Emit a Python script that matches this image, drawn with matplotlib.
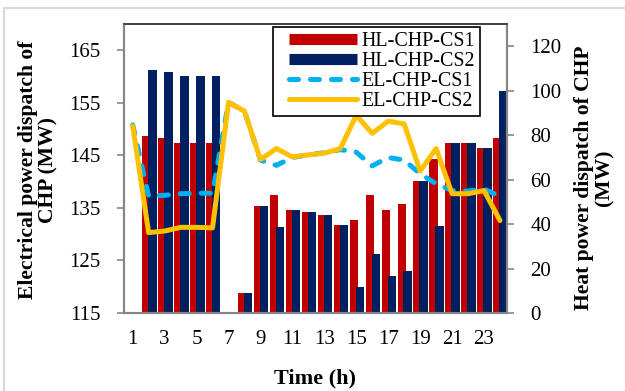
import matplotlib
matplotlib.use("Agg")
import matplotlib.pyplot as plt
from matplotlib.lines import Line2D
from matplotlib.patches import Rectangle
from matplotlib.legend_handler import HandlerLine2D
import numpy as np

plt.rcParams['font.family'] = ['Liberation Serif', 'DejaVu Serif']
plt.rcParams['lines.scale_dashes'] = False

# Hourly CHP dispatch for the two case studies
hours = list(range(1, 25))
hl_chp_cs1 = [0, 79.8, 78.7, 76.3, 76.3, 76.3, 0, 9.2, 48.2, 53.3, 46.4, 45.4,
              44.2, 39.5, 41.9, 53.3, 46.4, 49.0, 59.2, 69.4, 76.5, 76.5, 74.2, 78.7]
hl_chp_cs2 = [0, 109.2, 108.6, 106.4, 106.4, 106.4, 0, 9.2, 48.2, 38.9, 46.4, 45.4,
              44.2, 39.5, 11.7, 26.5, 16.5, 18.8, 59.2, 39.3, 76.5, 76.5, 74.2, 99.7]
el_chp_cs1 = [150.8, 137.2, 137.4, 137.7, 137.8, 137.8, 155.1, 153.4, 144.1, 143.1,
              144.6, 145.1, 145.5, 146.1, 145.6, 143.0, 144.6, 144.1, 141.5, 139.6,
              138.3, 138.2, 138.6, 137.2]
el_chp_cs2 = [150.6, 130.3, 130.6, 131.3, 131.3, 131.2, 155.1, 153.4, 144.2, 146.3,
              144.7, 145.1, 145.4, 146.3, 152.6, 149.2, 151.5, 151.0, 142.0, 146.3,
              137.7, 137.7, 138.3, 132.6]
xtick_labels = [1, 3, 5, 7, 9, 11, 13, 15, 17, 19, 21, 23]
el_ticks = [115, 125, 135, 145, 155, 165]
hl_ticks = [0, 20, 40, 60, 80, 100, 120]

RED = '#C00000'
NAVY = '#002060'
CYAN = '#00B0F0'
GOLD = '#FFC000'
AXIS_GREY = '#868686'

W, H = 625, 391
fig = plt.figure(figsize=(W / 100, H / 100), dpi=100)

# light frame around the figure
fig.patches.append(Rectangle((4 / W, -0.05), 1.2, (H - 8) / H + 0.05,
                             transform=fig.transFigure, fill=False,
                             edgecolor='#d9d9d9', linewidth=1.6))

left, right, top, bottom = 124, 507, 24, 313
axH = fig.add_axes([left / W, (H - bottom) / H, (right - left) / W, (bottom - top) / H])
axE = axH.twinx()

x = np.array(hours, dtype=float)
bw = 0.54
axH.bar(x - 0.416, hl_chp_cs1, width=bw, align='edge', color=RED, linewidth=0)
axH.bar(x - 0.043, hl_chp_cs2, width=bw, align='edge', color=NAVY, linewidth=0)

axE.plot(x, el_chp_cs1, color=CYAN, lw=3.6, dashes=(6.5, 8.6),
         dash_capstyle='round', solid_joinstyle='round')
axE.plot(x, el_chp_cs2, color=GOLD, lw=3.6,
         solid_capstyle='round', solid_joinstyle='round')

axH.set_xlim(0.455, 24.44)
axH.set_ylim(0, 130)
axE.set_ylim(115, 170)

# heat axis on the right, electrical axis on the left
axH.yaxis.tick_right()
axH.yaxis.set_label_position('right')
axE.yaxis.tick_left()
axE.yaxis.set_label_position('left')

axH.set_yticks(hl_ticks)
axE.set_yticks(el_ticks)
axH.set_xticks(xtick_labels)
axH.set_xticklabels([str(v) for v in xtick_labels])

for ax in (axH, axE):
    for side in ('left', 'right', 'bottom'):
        ax.spines[side].set_color(AXIS_GREY)
        ax.spines[side].set_linewidth(1.5)
    ax.spines['top'].set_color('#404040')
    ax.spines['top'].set_linewidth(1.2)

TICK_FS = 15
axH.tick_params(axis='x', length=0, pad=12.5, labelsize=TICK_FS)
axH.tick_params(axis='y', direction='out', length=5, width=1.2, color=AXIS_GREY,
                pad=12, labelsize=TICK_FS)
axE.tick_params(axis='y', direction='out', length=5, width=1.2, color=AXIS_GREY,
                pad=12, labelsize=TICK_FS)

axH.set_xlabel('Time (h)', fontsize=16, fontweight='bold', labelpad=14)
fig.text(38 / W, (H - 170) / H, 'Electrical power dispatch of\nCHP (MW)',
         rotation=90, ha='center', va='center', fontsize=15.6, fontweight='bold',
         linespacing=1.0, multialignment='center')
fig.text(594 / W, (H - 178) / H, 'Heat power dispatch of CHP\n(MW)',
         rotation=90, ha='center', va='center', fontsize=15.6, fontweight='bold',
         linespacing=1.05, multialignment='center')


class InsetLineHandler(HandlerLine2D):
    """Line handle that leaves a small blank lead-in on its left."""

    def get_xdata(self, legend, xdescent, ydescent, width, height, fontsize):
        xdata, xmark = super().get_xdata(legend, xdescent, ydescent, width, height, fontsize)
        xdata = np.array([-xdescent + 0.15 * width, -xdescent + width])
        return xdata, xmark


handles = [
    Line2D([], [], color=RED, lw=8, solid_capstyle='butt'),
    Line2D([], [], color=NAVY, lw=8, solid_capstyle='butt'),
    Line2D([], [], color=CYAN, lw=3.6, dashes=(6.5, 8.6), dash_capstyle='round'),
    Line2D([], [], color=GOLD, lw=3.6, solid_capstyle='round'),
]
labels = ['HL-CHP-CS1', 'HL-CHP-CS2', 'EL-CHP-CS1', 'EL-CHP-CS2']
leg = axE.legend(handles, labels, loc='upper right',
                 bbox_to_anchor=((480 - left) / (right - left), (bottom - 27) / (bottom - top)),
                 borderaxespad=0, fancybox=False, framealpha=1, edgecolor='black',
                 fontsize=14.4, handlelength=3.95, handletextpad=0.25, labelspacing=0.05,
                 borderpad=0.25,
                 handler_map={Line2D: InsetLineHandler()})
leg.get_frame().set_linewidth(1.2)

fig.savefig('out.png', dpi=100)
